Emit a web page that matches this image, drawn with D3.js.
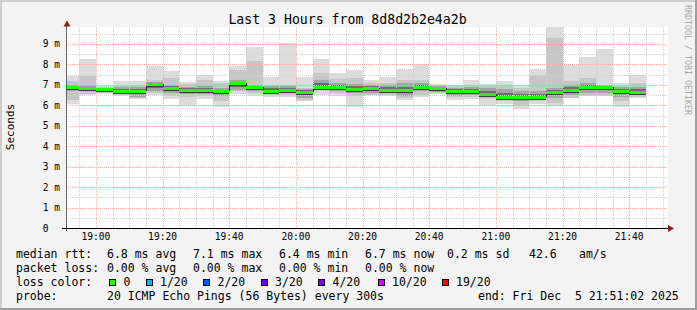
<!DOCTYPE html>
<html>
<head>
<meta charset="utf-8">
<script src="https://cdn.jsdelivr.net/npm/d3@7"></script>
<style>
  body { margin: 0; background: #f3f3f3; }
  text { font-family: "DejaVu Sans Mono", monospace; white-space: pre; }
</style>
</head>
<body>
<svg id="chart"></svg>
<script>
// 5 minute bins (start time of each bin), rtt in ms
const bins = ['18:50','18:55','19:00','19:05','19:10','19:15','19:20','19:25','19:30','19:35',
  '19:40','19:45','19:50','19:55','20:00','20:05','20:10','20:15','20:20','20:25',
  '20:30','20:35','20:40','20:45','20:50','20:55','21:00','21:05','21:10','21:15',
  '21:20','21:25','21:30','21:35','21:40'];
const rttMax = [7.42, 8.28, 6.93, 7.17, 7.17, 7.91, 7.66, 7.12, 7.50, 7.21, 7.91, 8.84, 7.37, 9.05, 7.37, 8.28, 7.58, 7.75,
  7.24, 7.37, 7.79, 8.04, 7.06, 7.01, 7.25, 7.04, 7.17, 7.01, 7.79, 9.83, 7.99, 8.34, 8.73, 7.08, 7.50];
const rttHigh = [7.17, 7.45, 6.90, 6.93, 7.00, 7.25, 7.34, 7.05, 7.25, 7.09, 7.71, 8.15, 7.01, 7.01, 6.85, 7.58, 7.29, 7.34,
  7.09, 7.09, 7.25, 7.25, 7.00, 6.95, 7.00, 6.95, 7.00, 6.85, 7.50, 9.30, 7.21, 7.34, 7.01, 6.93, 7.09];
const rttQ3 = [7.01, 7.01, 6.85, 6.88, 6.90, 7.15, 7.00, 6.90, 6.95, 6.85, 7.25, 7.01, 6.95, 6.93, 6.80, 7.25, 7.10, 7.05,
  7.01, 7.00, 7.09, 7.09, 6.95, 6.85, 6.90, 6.85, 6.80, 6.68, 6.68, 6.85, 7.00, 7.10, 7.00, 6.90, 6.90];
const rttMedian = [6.88, 6.83, 6.80, 6.72, 6.68, 7.04, 6.85, 6.76, 6.73, 6.68, 7.07, 6.90, 6.72, 6.73, 6.65, 6.91, 6.91, 6.81,
  6.85, 6.75, 6.75, 6.90, 6.83, 6.72, 6.70, 6.56, 6.40, 6.40, 6.40, 6.64, 6.75, 6.90, 6.90, 6.70, 6.67];
const rttQ1 = [6.68, 6.68, 6.65, 6.55, 6.40, 6.70, 6.60, 6.55, 6.55, 6.44, 6.76, 6.68, 6.55, 6.60, 6.35, 6.80, 6.70, 6.60,
  6.60, 6.60, 6.44, 6.68, 6.65, 6.45, 6.50, 6.45, 6.30, 6.20, 6.27, 6.36, 6.50, 6.60, 6.60, 6.40, 6.50];
const rttLow = [6.27, 6.57, 6.60, 6.49, 6.35, 6.60, 6.44, 6.40, 6.45, 6.19, 6.68, 6.60, 6.49, 6.49, 6.27, 6.68, 6.60, 6.44,
  6.52, 6.52, 6.36, 6.52, 6.60, 6.40, 6.40, 6.30, 6.20, 6.03, 6.19, 6.10, 6.36, 6.44, 6.44, 6.19, 6.40];
const rttMin = [6.08, 6.49, 6.57, 6.44, 6.32, 6.52, 6.31, 6.03, 6.31, 5.90, 6.55, 6.44, 6.41, 6.40, 6.19, 6.52, 6.44, 5.92,
  6.52, 6.44, 6.27, 6.41, 6.57, 6.27, 6.31, 6.03, 6.08, 5.82, 6.08, 5.98, 6.36, 6.44, 6.44, 5.90, 6.36];

const yTicks = [0, 1, 2, 3, 4, 5, 6, 7, 8, 9];
const xTicks = ['19:00','19:20','19:40','20:00','20:20','20:40','21:00','21:20','21:40'];
const lossLabels = ['0', '1/20', '2/20', '3/20', '4/20', '10/20', '19/20'];
const lossColors = ['#26ff00', '#00b8ff', '#0059ff', '#5e00ff', '#7e00ff', '#dd00ff', '#ff0000'];

const W = 697, H = 310;
const day = '2025-12-05 ';
const parse = d3.timeParse('%Y-%m-%d %H:%M:%S');
const tStart = parse(day + '18:51:02'), tEnd = parse(day + '21:51:02');

const svg = d3.select('#chart').attr('width', W).attr('height', H);

// background + 3d frame
svg.append('rect').attr('width', W).attr('height', H).attr('fill', '#f3f3f3');
svg.append('path').attr('d', `M1,${H} V1 H${W}`).attr('stroke', '#cecece').attr('stroke-width', 2).attr('fill', 'none');
svg.append('path').attr('d', `M0,${H - 1} H${W - 1} V0`).attr('stroke', '#9e9e9e').attr('stroke-width', 2).attr('fill', 'none');

const x = d3.scaleTime().domain([tStart, tEnd]).range([66, 666]);
const y = d3.scaleLinear().domain([0, 9.83]).range([228, 27]);
const plotLeft = 66, plotRight = 668, plotTop = y.range()[1], plotBottom = y.range()[0];

svg.append('rect').attr('x', plotLeft).attr('y', plotTop)
  .attr('width', plotRight - plotLeft).attr('height', plotBottom - plotTop).attr('fill', '#fff');

svg.append('clipPath').attr('id', 'plotclip')
  .append('rect').attr('x', plotLeft).attr('y', plotTop)
  .attr('width', x.range()[1] - plotLeft).attr('height', plotBottom - plotTop);

const data = bins.map((b, i) => {
  const t0 = parse(day + b + ':00');
  return {
    t0, t1: d3.timeMinute.offset(t0, 5),
    min: rttMin[i], low: rttLow[i], q1: rttQ1[i], med: rttMedian[i],
    q3: rttQ3[i], high: rttHigh[i], max: rttMax[i]
  };
});

const plot = svg.append('g').attr('clip-path', 'url(#plotclip)').attr('shape-rendering', 'crispEdges');

// smoke layers, outer to inner
const layers = [
  {lo: d => d.min, hi: d => d.max, fill: '#dcdcdc'},
  {lo: d => d.low, hi: d => d.high, fill: '#c6c6c6'},
  {lo: d => d.q1, hi: d => d.q3, fill: '#a4a4a4'},
  {lo: d => (d.q1 + d.med) / 2, hi: d => (d.q3 + d.med) / 2, fill: '#6e6e6e'}
];
layers.forEach(l => {
  plot.append('g').selectAll('rect').data(data).enter().append('rect')
    .attr('x', d => Math.round(x(d.t0)))
    .attr('width', d => Math.round(x(d.t1)) - Math.round(x(d.t0)))
    .attr('y', d => Math.round(y(l.hi(d))))
    .attr('height', d => Math.round(y(l.lo(d))) - Math.round(y(l.hi(d))))
    .attr('fill', l.fill);
});

// grid
const grid = svg.append('g').attr('shape-rendering', 'crispEdges');
const minorY = d3.range(0.5, 9.6, 1);
grid.selectAll('.gy').data(minorY).enter().append('line')
  .attr('x1', plotLeft).attr('x2', plotRight)
  .attr('y1', d => Math.round(y(d)) + 0.5).attr('y2', d => Math.round(y(d)) + 0.5)
  .attr('stroke', '#d2d2d2').attr('stroke-dasharray', '1,1');
const minorX = d3.timeMinute.every(5).range(tStart, tEnd);
grid.selectAll('.gx').data(minorX).enter().append('line')
  .attr('x1', d => Math.round(x(d)) + 0.5).attr('x2', d => Math.round(x(d)) + 0.5)
  .attr('y1', plotTop).attr('y2', plotBottom)
  .attr('stroke', '#d2d2d2').attr('stroke-dasharray', '1,1');
grid.selectAll('.my').data(yTicks.slice(1)).enter().append('line')
  .attr('x1', plotLeft).attr('x2', plotRight)
  .attr('y1', d => Math.round(y(d)) + 0.5).attr('y2', d => Math.round(y(d)) + 0.5)
  .attr('stroke', '#f5aaaa').attr('stroke-dasharray', '1,1');
const xTickTimes = xTicks.map(s => parse(day + s + ':00'));
grid.selectAll('.mx').data(xTickTimes).enter().append('line')
  .attr('x1', d => Math.round(x(d)) + 0.5).attr('x2', d => Math.round(x(d)) + 0.5)
  .attr('y1', plotTop).attr('y2', plotBottom)
  .attr('stroke', '#f5aaaa').attr('stroke-dasharray', '1,1');

// median line: dark step connectors + green (loss 0) segments
const med = svg.append('g').attr('clip-path', 'url(#plotclip)').attr('shape-rendering', 'crispEdges');
med.selectAll('.conn').data(data.slice(1)).enter().append('line')
  .attr('x1', d => Math.round(x(d.t0)) + 0.5).attr('x2', d => Math.round(x(d.t0)) + 0.5)
  .attr('y1', (d, i) => Math.round(y(data[i].med)))
  .attr('y2', d => Math.round(y(d.med)))
  .attr('stroke', '#202020').attr('stroke-width', 1);
med.selectAll('.seg').data(data).enter().append('rect')
  .attr('x', d => Math.round(x(d.t0)))
  .attr('width', d => Math.round(x(d.t1)) - Math.round(x(d.t0)))
  .attr('y', d => Math.round(y(d.med)) - 1)
  .attr('height', 3)
  .attr('fill', lossColors[0]);
med.selectAll('.dk').data(data).enter().append('rect')
  .attr('x', d => Math.round(x(d.t0)))
  .attr('width', d => Math.round(x(d.t1)) - Math.round(x(d.t0)))
  .attr('y', d => Math.round(y(d.med)) + 2)
  .attr('height', 1)
  .attr('fill', '#3a3a3a');

// axes
svg.append('line').attr('x1', 66.5).attr('x2', 66.5).attr('y1', 231).attr('y2', 25)
  .attr('stroke', '#666').attr('shape-rendering', 'crispEdges');
svg.append('line').attr('x1', 62).attr('x2', 669).attr('y1', 228.5).attr('y2', 228.5)
  .attr('stroke', '#000').attr('shape-rendering', 'crispEdges');
svg.append('path').attr('d', 'M63.5,26.5 L70.5,26.5 L67,20.5 Z').attr('fill', '#8b1a1a');
svg.append('path').attr('d', 'M668,225 L668,232 L674,228.5 Z').attr('fill', '#8b1a1a');

// tick labels
svg.append('g').selectAll('text').data(yTicks).enter().append('text')
  .attr('x', 60).attr('y', d => y(d) + 3.5)
  .attr('text-anchor', 'end').attr('font-size', 9.6)
  .text(d => d === 0 ? '0  ' : d + ' m');
svg.append('g').selectAll('text').data(xTickTimes).enter().append('text')
  .attr('x', d => x(d)).attr('y', 239.5)
  .attr('text-anchor', 'middle').attr('font-size', 9.6)
  .text((d, i) => xTicks[i]);

// titles
svg.append('text').attr('x', 347.5).attr('y', 24).attr('text-anchor', 'middle')
  .attr('font-size', 13.2).text('Last 3 Hours from 8d8d2b2e4a2b');
svg.append('text').attr('transform', 'translate(14,127) rotate(-90)').attr('text-anchor', 'middle')
  .attr('font-size', 11).text('Seconds');
svg.append('text').attr('transform', 'translate(684.5,5) rotate(90)')
  .attr('font-size', 8.3).attr('fill', '#a8a8a8').text('RRDTOOL / TOBI OETIKER');

// legend
const legend = svg.append('g').attr('font-size', 11.5);
const legendRows = [
  {y: 258, items: [[16, 'median rtt:'], [107, '6.8 ms avg'], [193, '7.1 ms max'], [279, '6.4 ms min'],
    [365, '6.7 ms now'], [447, '0.2 ms sd'], [529, '42.6'], [579, 'am/s']]},
  {y: 272, items: [[16, 'packet loss:'], [107, '0.00 % avg'], [193, '0.00 % max'], [279, '0.00 % min'], [365, '0.00 % now']]},
  {y: 286, items: [[16, 'loss color:']]},
  {y: 300, items: [[16, 'probe:'], [107, '20 ICMP Echo Pings (56 Bytes) every 300s'], [478, 'end: Fri Dec  5 21:51:02 2025']]}
];
legendRows.forEach(r => {
  legend.selectAll(null).data(r.items).enter().append('text')
    .attr('x', d => d[0]).attr('y', r.y).text(d => d[1]);
});
const boxX = [109, 145.5, 203, 260.5, 318, 377.5, 441.5];
const lossKey = legend.selectAll('.key').data(lossLabels).enter().append('g');
lossKey.append('rect')
  .attr('x', (d, i) => Math.round(boxX[i]) + 0.5).attr('y', 279.5)
  .attr('width', 6).attr('height', 6)
  .attr('fill', (d, i) => lossColors[i]).attr('stroke', '#000').attr('shape-rendering', 'crispEdges');
lossKey.append('text')
  .attr('x', (d, i) => boxX[i] + 14.5).attr('y', 286).text(d => d);
</script>
</body>
</html>
